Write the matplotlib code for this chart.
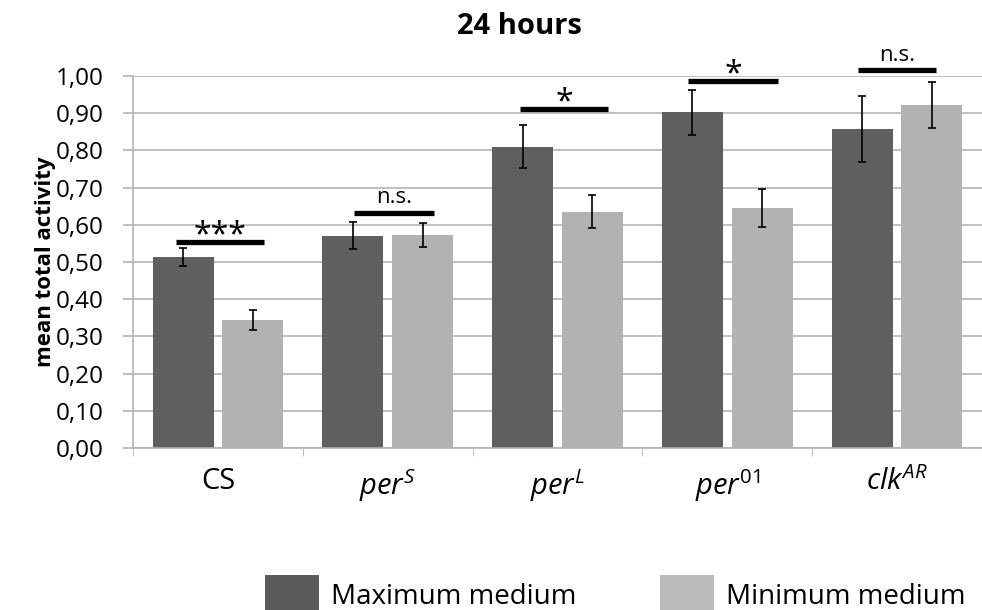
import matplotlib
matplotlib.use("Agg")
import matplotlib.pyplot as plt
import numpy as np
from matplotlib.patches import Patch

categories = [r"CS", r"$\mathit{per}^{\mathit{S}}$", r"$\mathit{per}^{\mathit{L}}$",
              r"$\mathit{per}^{\mathit{01}}$", r"$\mathit{clk}^{\mathit{AR}}$"]
max_vals = [0.513, 0.571, 0.810, 0.902, 0.857]
max_err = [0.025, 0.036, 0.058, 0.060, 0.088]
min_vals = [0.344, 0.573, 0.635, 0.645, 0.921]
min_err = [0.027, 0.033, 0.044, 0.050, 0.062]
sig_labels = ["***", "n.s.", "*", "*", "n.s."]
sig_heights = [0.554, 0.633, 0.912, 0.987, 1.015]
series_names = ["Maximum medium", "Minimum medium"]
yticks = [0.0, 0.1, 0.2, 0.3, 0.4, 0.5, 0.6, 0.7, 0.8, 0.9, 1.0]
ytick_labels = ["0,00", "0,10", "0,20", "0,30", "0,40", "0,50", "0,60", "0,70", "0,80", "0,90", "1,00"]

plt.rcParams['font.family'] = ['Open Sans', 'DejaVu Sans']
plt.rcParams['mathtext.fontset'] = 'custom'
plt.rcParams['mathtext.rm'] = 'Open Sans'
plt.rcParams['mathtext.it'] = 'Open Sans:italic'

dark = "#5f5f5f"
light = "#b2b2b2"
gridc = "#b4b4b4"

fig = plt.figure(figsize=(9.82, 6.10), dpi=100)
ax = fig.add_axes([133/982, 1-448/610, 1-133/982, (448-76)/610])

x = np.arange(len(categories))
w = 0.36
off = 0.205
ax.bar(x - off, max_vals, w, color=dark, zorder=2)
ax.bar(x + off, min_vals, w, color=light, zorder=2)
ax.errorbar(x - off, max_vals, yerr=max_err, fmt='none', ecolor='black',
            elinewidth=1.2, capsize=3, capthick=1.2, zorder=3)
ax.errorbar(x + off, min_vals, yerr=min_err, fmt='none', ecolor='black',
            elinewidth=1.2, capsize=3, capthick=1.2, zorder=3)

sig_ext = [(-0.245, 0.269), (-0.20, 0.27), (-0.22, 0.30), (-0.23, 0.30), (-0.23, 0.23)]
for i, (lab, h) in enumerate(zip(sig_labels, sig_heights)):
    a, b = sig_ext[i]
    ax.plot([i + a, i + b], [h, h], color='black', lw=3.8, solid_capstyle='butt',
            clip_on=False, zorder=4)
    cx = i + (a + b) / 2
    if lab == "n.s.":
        ax.text(cx, h + 0.012, lab, ha='center', va='bottom', fontsize=16, clip_on=False)
    else:
        ax.text(cx, h - 0.028, lab, ha='center', va='bottom', fontsize=23, clip_on=False)

ax.set_xlim(-0.5, -0.5 + 849/172)
ax.set_ylim(0, 1.0)
ax.set_yticks(yticks)
ax.set_yticklabels(ytick_labels, fontsize=17.5)
ax.set_xticks(x)
ax.set_xticklabels(categories, fontsize=21)
ax.set_xticks(np.arange(-0.5, 5, 1.0), minor=True)
ax.tick_params(axis='x', which='major', length=0, pad=14)
ax.tick_params(axis='x', which='minor', length=6, color=gridc, direction='out')
ax.tick_params(axis='y', length=7, width=1.2, color=gridc, direction='out', pad=14)
ax.yaxis.grid(True, color=gridc, lw=1.2, zorder=0)
ax.set_axisbelow(True)
for s in ['top', 'right']:
    ax.spines[s].set_visible(False)
for s in ['left', 'bottom']:
    ax.spines[s].set_color(gridc)
    ax.spines[s].set_linewidth(1.2)

ax.set_ylabel("mean total activity", fontsize=16, fontweight='bold', labelpad=0)
fig.text(519/982, 1-26/610, "24 hours", ha='center', va='center', fontsize=21, fontweight='bold')

handles = [Patch(facecolor="#5a5a5a", edgecolor='none'), Patch(facecolor="#bcbcbc", edgecolor='none')]
fig.legend(handles, series_names, loc='upper left', bbox_to_anchor=(254/982, 1-564/610),
           ncol=2, frameon=False, fontsize=20, handlelength=1.95, handleheight=1.85,
           handletextpad=0.43, columnspacing=3.0, borderaxespad=0)

fig.savefig("out.png", dpi=100)
